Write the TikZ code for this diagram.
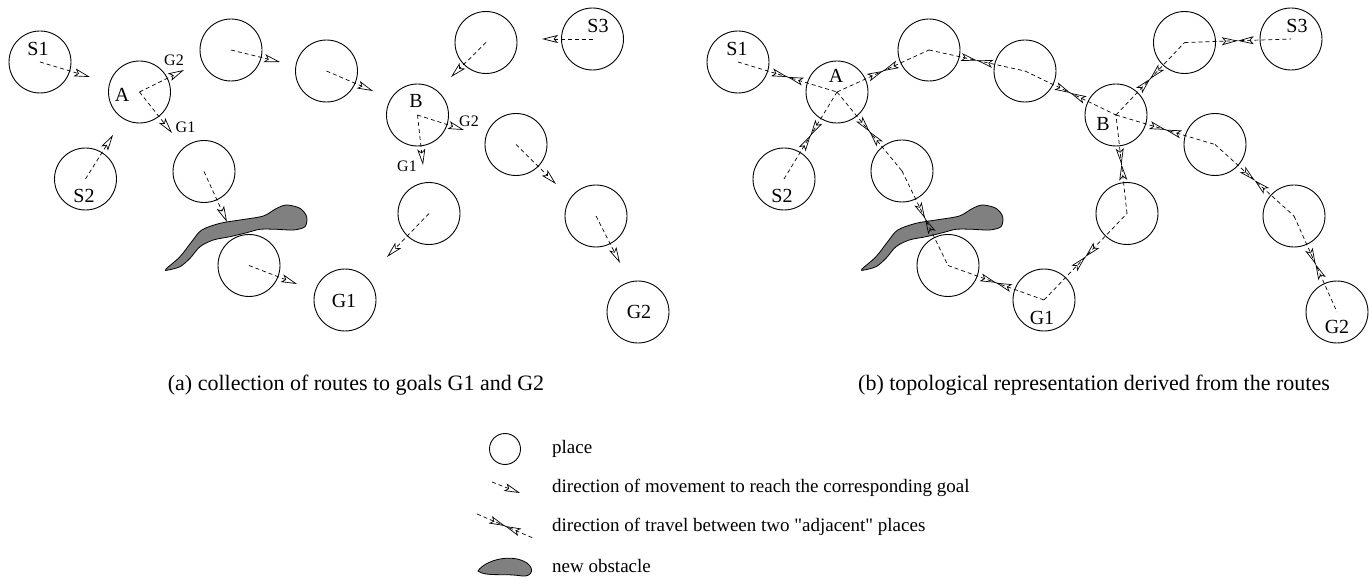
\documentclass[tikz,border=0pt]{standalone}
\usepackage{fontspec}
\setmainfont{Liberation Serif}[Ligatures=TeXOff]
\usetikzlibrary{arrows.meta,calc,decorations.markings}

\begin{document}
\begin{tikzpicture}[x=1pt,y=-1pt,
    >={Stealth[open,length=16pt,width=8pt,inset=3.5pt]},
    place/.style={circle,draw,line width=.9pt,minimum size=62pt,inner sep=0pt},
    tag/.style={inner sep=0pt,font=\fontsize{20}{20}\selectfont},
    goaltag/.style={inner sep=0pt,font=\fontsize{16}{16}\selectfont},
    route/.style={->,line width=.7pt,dash pattern=on 4pt off 3pt},
    link/.style={line width=.7pt,dash pattern=on 4pt off 3pt,postaction={decorate},
      decoration={markings,mark=at position .5 with {\arrow{>}\arrowreversed{>}}}},
    wall/.style={draw,line width=.8pt,fill=black!50},
    note/.style={anchor=west,inner sep=0pt,font=\fontsize{19}{19}\selectfont},
    caption/.style={inner sep=0pt,font=\fontsize{22}{22}\selectfont}]
  \useasboundingbox (0,0) rectangle (1369,580);

  \foreach \dx in {0,696}
    \draw[wall,shift={(\dx,0)}] plot[smooth cycle] coordinates {(165.7,269.3) (180,256.7) (191.7,241.7) (201.7,230) (220,223.3) (240,220) (263.3,216) (276.7,208.3) (286.7,205) (300,208.3) (306.7,216.7) (305,226.7) (293.3,230) (276.7,229.3) (260,229.3) (246.7,232.7) (230,236.7) (213.3,240) (200,246.7) (190,258.3) (180,266.7) (168.3,270)};

  % (a) routes
  \foreach \n/\x/\y in {s1/40/62, A/139.5/92, s2/85.5/179, p1/204/171.5, p2/231/50, p3/326.5/71, p4/249/265.5, B/417.5/115, p5/486/42.5, s3/592.5/39, p6/516/144.5, p7/429/213.5, g1/345/300, p8/596/216, g2/638/312}
    \node[place] (a-\n) at (\x,\y) {};
  \foreach \n/\t/\x/\y in {s1/S1/38/49, A/A/122/95, s2/S2/84/196, B/B/416/101, s3/S3/598/26, g1/G1/344/301, g2/G2/639/312}
    \node[tag] (a-\n-t) at (\x,\y) {\t};
  \foreach \n/\m/\x/\y in {s1/s1e/90/77, A/Ag2/184/70, A/Ag1/172/133, s2/s2e/113/135, p1/p1e/227/222, p2/p2e/280/62, p3/p3e/373/91, p4/p4e/297/284, B/Bg2/464/130, B/Bg1/423/165, p5/p5e/451/77, s3/s3e/542/39, p6/p6e/556/184, p7/p7e/387/257, p8/p8e/620/263}
    {\coordinate (a-\m) at (\x,\y);
     \draw[route] (a-\n.center) -- (a-\m);}
  \node[goaltag] (a-A-g2) at (174,60) {G2};
  \node[goaltag] (a-A-g1) at (185.5,127.5) {G1};
  \node[goaltag] (a-B-g2) at (469,121) {G2};
  \node[goaltag] (a-B-g1) at (407,166) {G1};

  % (b) topology
  \foreach \n/\x/\y in {s1/738/62, A/837/92, s2/784/179, p1/902/171, p2/929/50, p3/1025/71, p4/948/265.5, B/1116/115, p5/1184.5/42.5, s3/1291/39, p6/1215/144.5, p7/1127/213.5, g1/1044/300, p8/1294/216, g2/1337/312}
    \node[place] (b-\n) at (\x,\y) {};
  \foreach \n/\t/\x/\y in {s1/S1/737/49, A/A/836/76, s2/S2/782/196, B/B/1103/124, s3/S3/1297/26, g1/G1/1042/318, g2/G2/1337/327}
    \node[tag] (b-\n-t) at (\x,\y) {\t};
  \foreach \u/\v in {s1/A, s2/A, A/p1, A/p2, p2/p3, p3/B, p1/p4, p4/g1, g1/p7, p7/B, B/p5, p5/s3, B/p6, p6/p8, p8/g2}
    \draw[link] (b-\u.center) -- (b-\v.center);

  \node[caption] (cap-a) at (356,385) {(a) collection of routes to goals G1 and G2};
  \node[caption] (cap-b) at (1094,385) {(b) topological representation derived from the routes};

  % legend
  \node[place,minimum size=31pt] (l-place) at (505,449) {};
  \node[note] (l-place-t) at (552,449) {place};
  \coordinate (l-go-s) at (492,482);
  \coordinate (l-go-e) at (520,493);
  \draw[route] (l-go-s) -- (l-go-e);
  \node[note] (l-go-t) at (552,488) {direction of movement to reach the corresponding goal};
  \coordinate (l-link-s) at (477,514);
  \coordinate (l-link-e) at (533,538);
  \draw[link] (l-link-s) -- (l-link-e);
  \node[note] (l-link-t) at (552,527) {direction of travel between two "adjacent" places};
  \draw[wall] (478,571) .. controls (485,560) and (512,553) .. (527,563) .. controls (535,569) and (532,577) .. (522,576) .. controls (505,573) and (485,577) .. (478,571) -- cycle;
  \node[note] (l-wall-t) at (552,566) {new obstacle};
\end{tikzpicture}
\end{document}
